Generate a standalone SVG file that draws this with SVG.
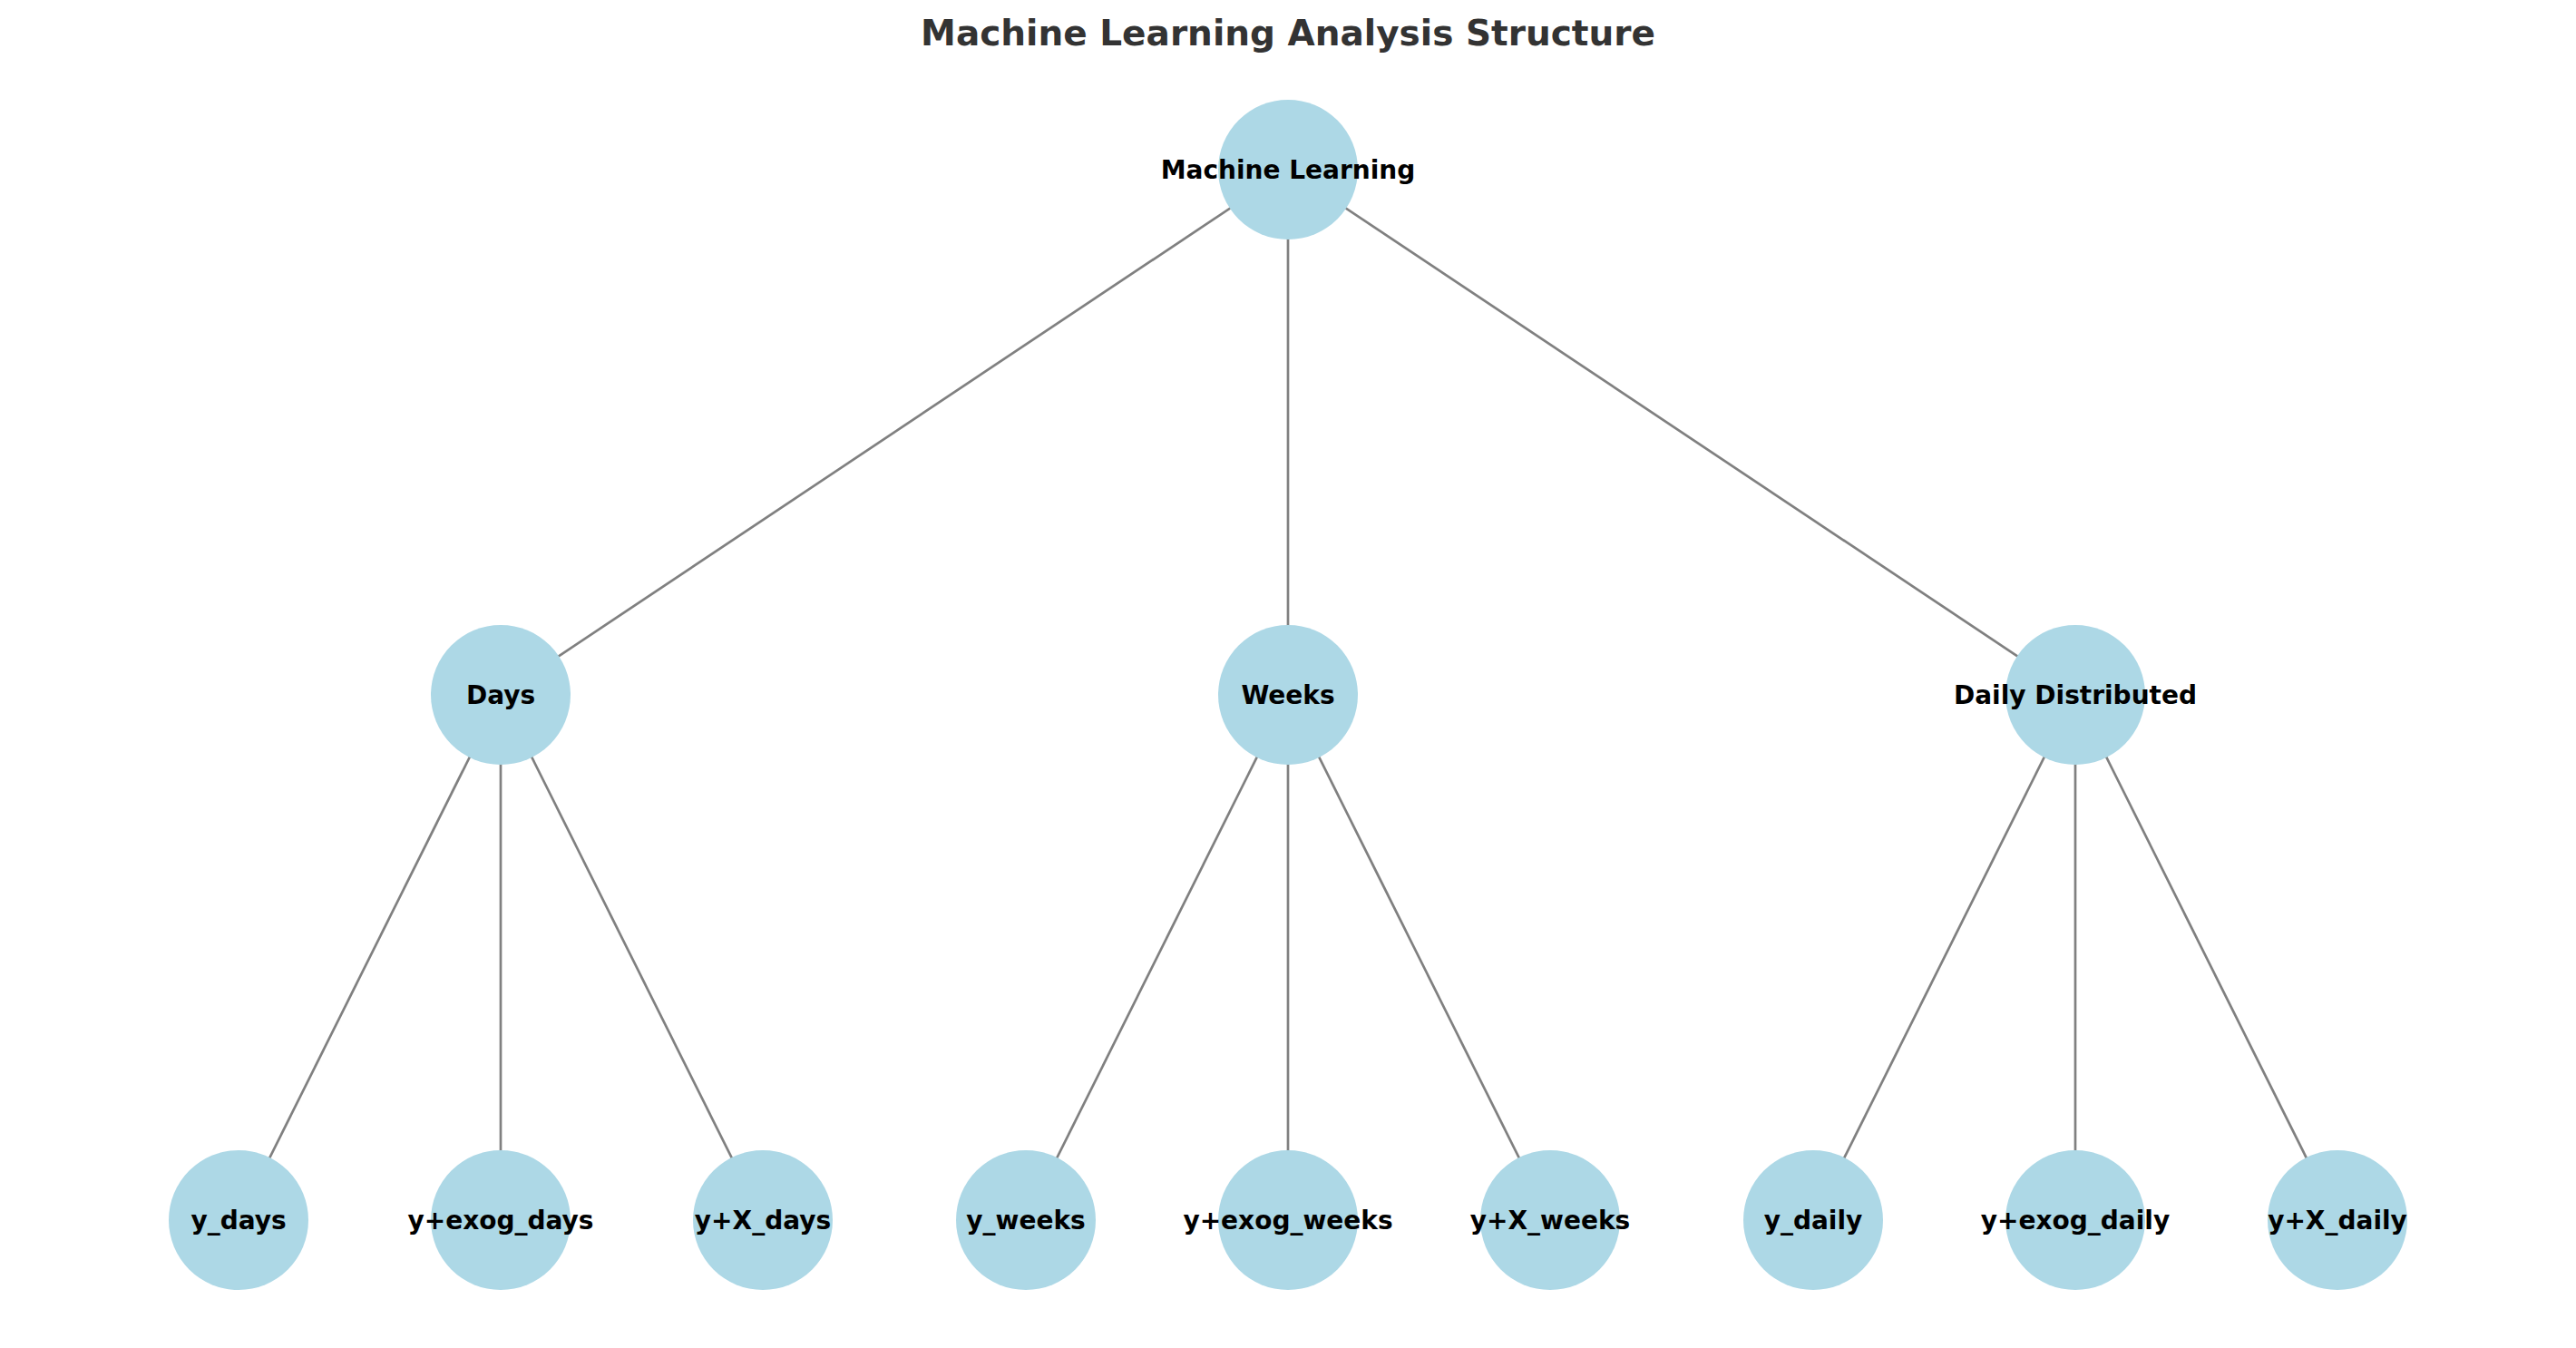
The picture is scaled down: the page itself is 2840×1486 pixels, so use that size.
<svg xmlns="http://www.w3.org/2000/svg" width="2840" height="1486" viewBox="0 0 2840 1486">
<style>
.edge{stroke:#808080;stroke-width:2.7;fill:none}
.node circle{fill:#ADD8E6}
.node text{font-family:"DejaVu Sans",sans-serif;font-weight:bold;font-size:28px;fill:#000;text-anchor:middle}
.title{font-family:"DejaVu Sans",sans-serif;font-weight:bold;font-size:39px;fill:#333333;text-anchor:middle}
</style>
<rect width="2840" height="1486" fill="#ffffff"/>
<text class="title" x="1420" y="50">Machine Learning Analysis Structure</text>
<g id="connectors">
<line class="edge" x1="1420" y1="187" x2="552" y2="766"/>
<line class="edge" x1="1420" y1="187" x2="1420" y2="766"/>
<line class="edge" x1="1420" y1="187" x2="2288" y2="766"/>
<line class="edge" x1="552" y1="766" x2="263" y2="1345"/>
<line class="edge" x1="552" y1="766" x2="552" y2="1345"/>
<line class="edge" x1="552" y1="766" x2="841" y2="1345"/>
<line class="edge" x1="1420" y1="766" x2="1131" y2="1345"/>
<line class="edge" x1="1420" y1="766" x2="1420" y2="1345"/>
<line class="edge" x1="1420" y1="766" x2="1709" y2="1345"/>
<line class="edge" x1="2288" y1="766" x2="1999" y2="1345"/>
<line class="edge" x1="2288" y1="766" x2="2288" y2="1345"/>
<line class="edge" x1="2288" y1="766" x2="2577" y2="1345"/>
</g>
<g id="node-ml" class="node"><circle cx="1420" cy="187" r="77"/><text x="1420" y="197">Machine Learning</text></g>
<g id="node-days" class="node"><circle cx="552" cy="766" r="77"/><text x="552" y="776">Days</text></g>
<g id="node-weeks" class="node"><circle cx="1420" cy="766" r="77"/><text x="1420" y="776">Weeks</text></g>
<g id="node-daily" class="node"><circle cx="2288" cy="766" r="77"/><text x="2288" y="776">Daily Distributed</text></g>
<g id="node-y-days" class="node"><circle cx="263" cy="1345" r="77"/><text x="263" y="1355">y_days</text></g>
<g id="node-yexog-days" class="node"><circle cx="552" cy="1345" r="77"/><text x="552" y="1355">y+exog_days</text></g>
<g id="node-yx-days" class="node"><circle cx="841" cy="1345" r="77"/><text x="841" y="1355">y+X_days</text></g>
<g id="node-y-weeks" class="node"><circle cx="1131" cy="1345" r="77"/><text x="1131" y="1355">y_weeks</text></g>
<g id="node-yexog-weeks" class="node"><circle cx="1420" cy="1345" r="77"/><text x="1420" y="1355">y+exog_weeks</text></g>
<g id="node-yx-weeks" class="node"><circle cx="1709" cy="1345" r="77"/><text x="1709" y="1355">y+X_weeks</text></g>
<g id="node-y-daily" class="node"><circle cx="1999" cy="1345" r="77"/><text x="1999" y="1355">y_daily</text></g>
<g id="node-yexog-daily" class="node"><circle cx="2288" cy="1345" r="77"/><text x="2288" y="1355">y+exog_daily</text></g>
<g id="node-yx-daily" class="node"><circle cx="2577" cy="1345" r="77"/><text x="2577" y="1355">y+X_daily</text></g>
</svg>
